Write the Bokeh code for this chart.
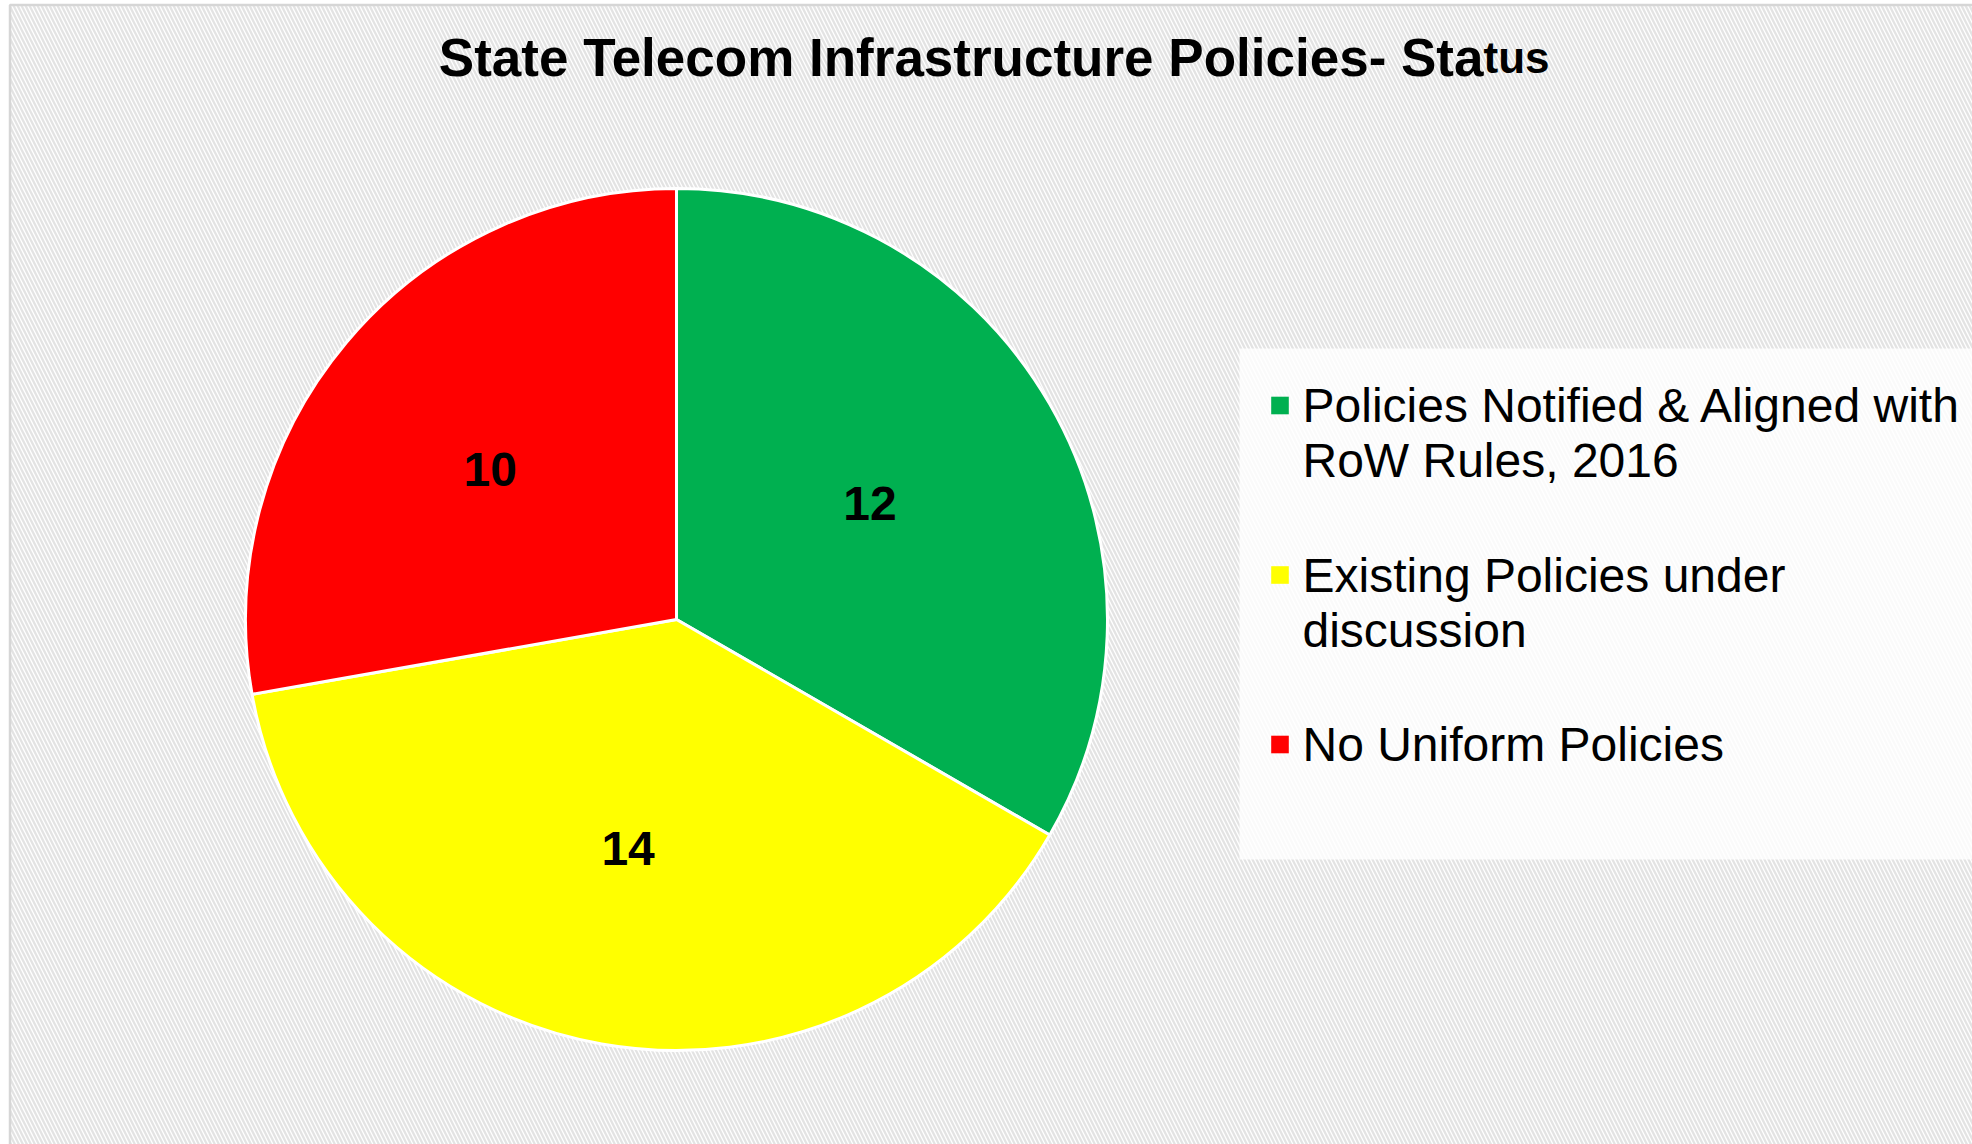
import math
from bokeh.plotting import figure
from bokeh.models import Range1d, ColumnDataSource
from bokeh.core.properties import value
from bokeh.embed import file_html
from bokeh.resources import INLINE

# ---- data ----
categories = [
    "Policies Notified & Aligned with\nRoW Rules, 2016",
    "Existing Policies under\ndiscussion",
    "No Uniform Policies",
]
counts = [12, 14, 10]
colors = ["#00B050", "#FFFF00", "#FF0000"]
title_main = "State Telecom Infrastructure Policies- Sta"
title_tail = "tus"

# ---- layout (pixel-like data space, y up) ----
W, H = 1972, 1144
FONT = value("Liberation Sans")

p = figure(width=W, height=H, output_backend="svg", toolbar_location=None,
           x_range=Range1d(0, W), y_range=Range1d(0, H),
           x_axis_location=None, y_axis_location=None, min_border=0)
p.grid.visible = False
p.outline_line_color = None
p.background_fill_color = "white"
p.border_fill_color = "white"

# hatched chart-area background with light border
p.quad(left=[9.5], right=[W + 20], bottom=[-20], top=[H - 4.5],
       fill_color="white", line_color="#d6d6d6", line_width=2.5,
       hatch_pattern="left_diagonal_line", hatch_color="#e3e3e3",
       hatch_scale=8, hatch_weight=2.3)

# ---- pie ----
cx, cy, R = 676, 525, 431
total = sum(counts)
starts, ends, mids = [], [], []
cum = 0
for v in counts:
    e = math.pi / 2 - 2 * math.pi * cum / total
    s = e - 2 * math.pi * v / total
    starts.append(s)
    ends.append(e)
    mids.append((s + e) / 2)
    cum += v

src = ColumnDataSource(dict(start=starts, end=ends, color=colors))
p.wedge(x=cx, y=cy, radius=R, start_angle="start", end_angle="end",
        direction="anticlock", fill_color="color", line_color="white",
        line_width=3, source=src)

lab_r = 0.54 * R
p.text(x=[cx + lab_r * math.cos(m) - 8 for m in mids],
       y=[cy + lab_r * math.sin(m) for m in mids],
       text=[str(v) for v in counts], text_font=FONT,
       text_font_style="bold", text_font_size="48px",
       text_align="center", text_baseline="middle", text_color="black")

# ---- legend ----
p.quad(left=[1239], right=[W + 20], bottom=[285], top=[796],
       fill_color="white", fill_alpha=0.8, line_color=None)

leg_top = 739
pitch = 169.5
line_h = 55
lx, ly, lt = [], [], []
sq_y = []
for i, cat in enumerate(categories):
    y0 = leg_top - i * pitch
    sq_y.append(y0)
    for j, line in enumerate(cat.split("\n")):
        lx.append(1302)
        ly.append(y0 - j * line_h)
        lt.append(line)

p.rect(x=[1279.5] * len(categories), y=sq_y, width=17.6, height=17.6,
       fill_color=colors, line_color=None)
p.text(x=lx, y=ly, text=lt, text_font=FONT, text_font_size="48px",
       text_align="left", text_baseline="middle", text_color="black")

# ---- title ----
p.text(x=[1483], y=[1087], text=[title_main], text_font=FONT,
       text_font_style="bold", text_font_size="53px",
       text_align="right", text_baseline="alphabetic", text_color="black")
p.text(x=[1483], y=[1087], text=[title_tail], text_font=FONT,
       text_font_style="bold", text_font_size="44px",
       text_align="left", text_baseline="alphabetic", text_color="black")

open("out.html", "w").write(file_html(p, INLINE))
